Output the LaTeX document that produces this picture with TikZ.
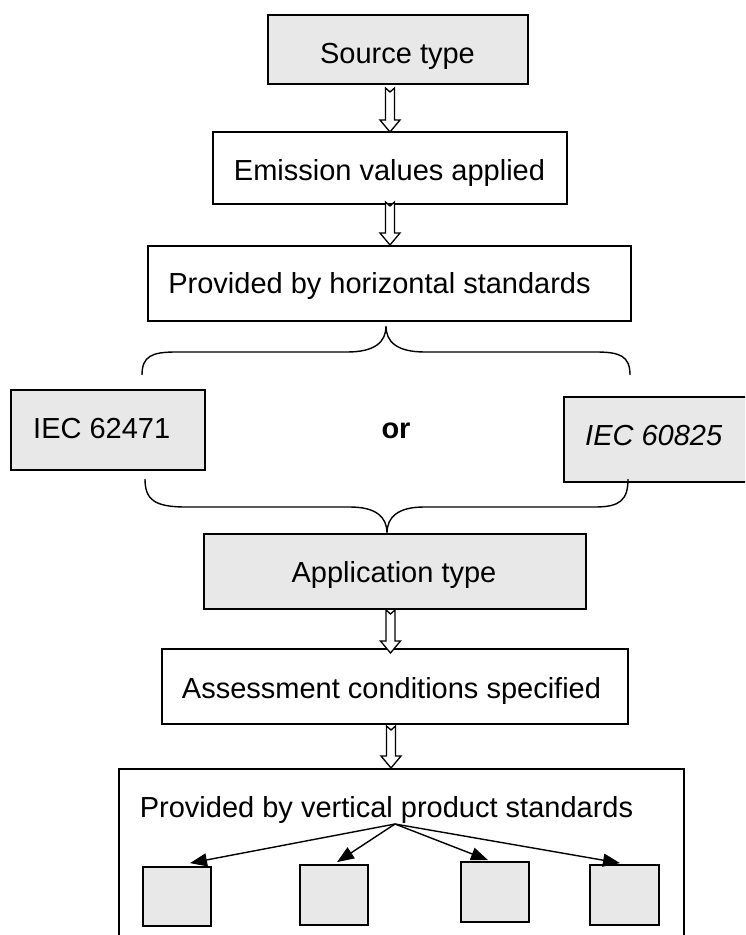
\documentclass[tikz,border=0pt]{standalone}
\usepackage{fontspec}
\setmainfont{Liberation Sans}
\usetikzlibrary{calc,arrows.meta}
\definecolor{boxgray}{RGB}{232,232,232}
\newcommand{\hollowarr}[2]{\path[hollow] let \p1=(#1),\p2=(#2) in
  (\x1-4.5pt,\y1) -- (\x1,\y1-4pt) -- (\x1+4.5pt,\y1) -- (\x1+4.5pt,\y2+12pt)
  -- (\x1+10pt,\y2+12pt) -- (\x1,\y2) -- (\x1-10pt,\y2+12pt) -- (\x1-4.5pt,\y2+12pt) -- cycle;}
\begin{document}
\begin{tikzpicture}[x=1pt,y=-1pt,
  box/.style={draw=black,line width=1.8pt,rectangle,inner sep=0pt},
  graybox/.style={box,fill=boxgray},
  whitebox/.style={box,fill=white},
  lbl/.style={inner sep=0pt,anchor=base,font=\fontsize{29}{33}\selectfont},
  hollow/.style={draw=black,fill=white,line width=1.3pt,line join=miter},
  brace/.style={draw=black,line width=1.4pt},
  ptr/.style={draw=black,line width=1.4pt,-{Triangle[length=17pt,width=13pt]}}]
\useasboundingbox (0,0) rectangle (745,935);
\fill[white] (0,0) rectangle (745,935);

% main chain
\node[graybox,minimum width=260pt,minimum height=69pt] (src) at (398,49.5) {};
\node[lbl] (srcT) at (397.5,63) {Source type};
\node[whitebox,minimum width=354pt,minimum height=72pt] (emi) at (390,168) {};
\node[lbl] (emiT) at (389.5,180) {Emission values applied};
\node[whitebox,minimum width=483pt,minimum height=75pt] (hor) at (389.5,283.5) {};
\node[lbl] (horT) at (379.5,293) {Provided by horizontal standards};

% alternatives
\node[graybox,minimum width=194pt,minimum height=80pt] (iecA) at (108,430) {};
\node[lbl,anchor=base west] (iecAT) at (33,438) {IEC 62471};
\node[lbl,font=\fontsize{29}{33}\selectfont\bfseries] (orT) at (396,438) {or};
\begin{scope}
  \clip (0,0) rectangle (745,935);
  \node[graybox,minimum width=200pt,minimum height=85pt] (iecB) at (664,439.5) {};
  \node[whitebox,minimum width=565pt,minimum height=190pt] (ver) at (401.5,864) {};
\end{scope}
\node[lbl,anchor=base west,font=\fontsize{29}{33}\selectfont\itshape] (iecBT) at (585,445) {IEC 60825};

\node[graybox,minimum width=382pt,minimum height=75pt] (app) at (395,571.5) {};
\node[lbl] (appT) at (394,582) {Application type};
\node[whitebox,minimum width=466pt,minimum height=75pt] (ass) at (395,686.5) {};
\node[lbl] (assT) at (391.5,698) {Assessment conditions specified};
\node[lbl] (verT) at (386.5,817) {Provided by vertical product standards};

% product boxes
\node[graybox,minimum width=68pt,minimum height=59pt] (p1) at (177,896.5) {};
\node[graybox,minimum width=68pt,minimum height=60pt] (p2) at (334,895) {};
\node[graybox,minimum width=68pt,minimum height=60pt] (p3) at (495,892) {};
\node[graybox,minimum width=69pt,minimum height=60pt] (p4) at (624.5,895) {};

% hollow arrows
\coordinate (h1a) at (390,88);   \coordinate (h1b) at (390,132);
\coordinate (h2a) at (390,202);  \coordinate (h2b) at (390,245);
\coordinate (h3a) at (390.5,610);\coordinate (h3b) at (390.5,653);
\coordinate (h4a) at (391,726);  \coordinate (h4b) at (391,768);
\hollowarr{h1a}{h1b}
\hollowarr{h2a}{h2b}
\hollowarr{h3a}{h3b}
\hollowarr{h4a}{h4b}

% braces
\coordinate (tbL) at (142,375); \coordinate (tbT) at (386,326); \coordinate (tbR) at (630,375);
\draw[brace] (tbL) .. controls (142,356) and (152,352) .. (176,352) -- (347,352)
  .. controls (375,352) and (386,342) .. (tbT)
  .. controls (386,342) and (397,352) .. (425,352) -- (596,352)
  .. controls (620,352) and (630,356) .. (tbR);
\coordinate (bbL) at (145,479); \coordinate (bbT) at (387,533); \coordinate (bbR) at (628,479);
\draw[brace] (bbL) .. controls (145,500) and (155,507) .. (186,507) -- (350,507)
  .. controls (376,507) and (387,517) .. (bbT)
  .. controls (387,517) and (398,507) .. (424,507) -- (595,507)
  .. controls (620,507) and (628,500) .. (bbR);

% pointer arrows
\coordinate (org) at (395,824);
\draw[ptr] (org) -- ($(p1.north)+(13,-3)$);
\draw[ptr] (org) -- ($(p2.north)+(3,-2)$);
\draw[ptr] (org) -- ($(p3.north)+(-7,-1)$);
\draw[ptr] (org) -- ($(p4.north)+(-4.5,-1)$);
\end{tikzpicture}
\end{document}
